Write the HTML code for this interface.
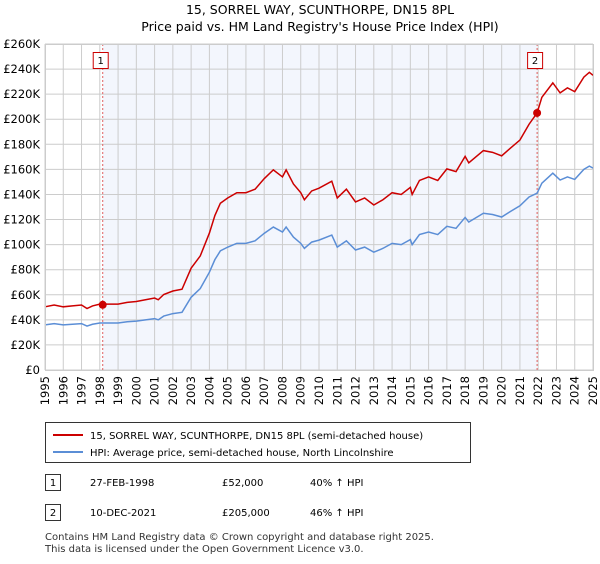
<!DOCTYPE html>
<html><head><meta charset="utf-8"><style>
body{margin:0;background:#fff;font-family:"DejaVu Sans","Liberation Sans",sans-serif;}
svg text{font-family:"DejaVu Sans","Liberation Sans",sans-serif;}
</style></head><body>
<svg id="c" width="600" height="560" xmlns="http://www.w3.org/2000/svg">
<text x="320" y="14" font-size="12.5" text-anchor="middle">15, SORREL WAY, SCUNTHORPE, DN15 8PL</text>
<text x="320" y="31" font-size="12.5" text-anchor="middle">Price paid vs. HM Land Registry's House Price Index (HPI)</text>
<g id="plot"></g>
<g>
<rect x="45.5" y="422.5" width="425" height="40" fill="#fff" stroke="#333"/>
<line x1="53" y1="435" x2="83" y2="435" stroke="#cc0000" stroke-width="2"/>
<text x="90" y="439" font-size="10">15, SORREL WAY, SCUNTHORPE, DN15 8PL (semi-detached house)</text>
<line x1="53" y1="452" x2="83" y2="452" stroke="#5b8ed6" stroke-width="2"/>
<text x="90" y="456" font-size="10">HPI: Average price, semi-detached house, North Lincolnshire</text>
</g>
<g font-size="10">
<rect x="45.5" y="474.5" width="15" height="16" fill="#fff" stroke="#333"/><text x="53" y="486" text-anchor="middle">1</text>
<text x="90" y="486">27-FEB-1998</text><text x="222" y="486">£52,000</text><text x="310" y="486">40% ↑ HPI</text>
<rect x="45.5" y="504.5" width="15" height="16" fill="#fff" stroke="#333"/><text x="53" y="516" text-anchor="middle">2</text>
<text x="90" y="516">10-DEC-2021</text><text x="222" y="516">£205,000</text><text x="310" y="516">46% ↑ HPI</text>
</g>
<text x="45" y="540" font-size="10" fill="#333">Contains HM Land Registry data © Crown copyright and database right 2025.</text>
<text x="45" y="552" font-size="10" fill="#333">This data is licensed under the Open Government Licence v3.0.</text>
</svg>
<script>
const times=[1995,1995.5,1996,1996.5,1997,1997.3,1997.6,1998,1998.5,1999,1999.5,2000,2000.5,2001,2001.2,2001.5,2002,2002.5,2003,2003.5,2004,2004.3,2004.6,2005,2005.5,2006,2006.5,2007,2007.5,2008,2008.2,2008.6,2009,2009.2,2009.6,2010,2010.7,2011,2011.5,2012,2012.5,2013,2013.5,2014,2014.5,2015,2015.1,2015.5,2016,2016.5,2017,2017.5,2018,2018.2,2019,2019.5,2020,2020.5,2021,2021.5,2021.94,2022.2,2022.8,2023.2,2023.6,2024,2024.5,2024.8,2025];
const hpiValues=[36,37,36,36.5,37,35,36.5,37.5,37.5,37.5,38.5,39,40,41,40,43,45,46,58,65,78,88,95,98,101,101,103,109,114,110,114,106,101,97,102,103.6,107.6,98,103,95.7,98,94,97,101,100,104,100,108,110,108,114.6,113,121.7,118,125,124,122,126.6,131,138,141,149,157,151.5,154,152,160,162.6,161];
const propertyValues=[50.4,51.8,50.4,51.1,51.8,49,51.1,52.5,52.5,52.5,53.9,54.6,56,57.4,56,60.2,63,64.4,81.2,91,109.2,123.2,133,137.2,141.4,141.4,144.2,152.6,159.6,154,159.6,148.4,141.4,135.8,142.8,145,150.6,137.2,144.2,134,137.2,131.6,135.8,141.4,140,145.6,140,151.2,154,151.2,160.4,158.2,170.4,165.2,175,173.6,170.8,177.2,183.4,196,205,217.5,229,221,225,222,233.6,237.4,235];
const saleTimes=[1998.16,2021.94];
const salePrices=[52,205];
const saleLabels=["1","2"];
const yTicks=[0,20,40,60,80,100,120,140,160,180,200,220,240,260];
const xYears=[1995,1996,1997,1998,1999,2000,2001,2002,2003,2004,2005,2006,2007,2008,2009,2010,2011,2012,2013,2014,2015,2016,2017,2018,2019,2020,2021,2022,2023,2024,2025];
const X0=45,X1=593,Y0=370,Y1=44;
const xs=t=>X0+(t-1995)/30*(X1-X0);
const ys=v=>Y0-v/260*(Y0-Y1);
const g=document.getElementById('plot');
const NS='http://www.w3.org/2000/svg';
function mk(tag,a){const e=document.createElementNS(NS,tag);for(const k in a)e.setAttribute(k,a[k]);g.appendChild(e);return e;}
let e=mk('rect',{x:xs(saleTimes[0]),y:Y1,width:xs(saleTimes[1])-xs(saleTimes[0]),height:Y0-Y1,fill:'#f3f6fd'});


yTicks.forEach(v=>{
 let l=mk('line',{x1:X0,x2:X1,y1:ys(v),y2:ys(v),stroke:'#ccc'});
 
 
 let t=mk('text',{x:X0-5,y:ys(v)+4,'font-size':'11.5','text-anchor':'end'});
 t.textContent=v===0?'£0':'£'+v+'K';
 
 
});
xYears.forEach(yr=>{
 let l=mk('line',{x1:xs(yr),x2:xs(yr),y1:Y1,y2:Y0,stroke:'#ccc'});
 
 
 let t=mk('text',{x:0,y:0,'font-size':'11.5','text-anchor':'end',transform:`translate(${xs(yr)+4},${Y0+6}) rotate(-90)`});
 t.textContent=yr;
 
 
});
saleTimes.forEach((t,i)=>{
 let l=mk('line',{x1:xs(t),x2:xs(t),y1:Y1,y2:Y0,stroke:'#e06060','stroke-dasharray':'2,2'});
 
 
});
let hp=mk('polyline',{points:times.map((t,i)=>xs(t)+','+ys(hpiValues[i])).join(' '),fill:'none',stroke:'#5b8ed6','stroke-width':1.5});


let pp=mk('polyline',{points:times.map((t,i)=>xs(t)+','+ys(propertyValues[i])).join(' '),fill:'none',stroke:'#cc0000','stroke-width':1.5});


saleTimes.forEach((t,i)=>{
 let c=mk('circle',{cx:xs(t),cy:ys(salePrices[i]),r:4,fill:'#cc0000'});
 
 
 let b=mk('rect',{x:xs(t)-9.5,y:52.5,width:15,height:16,fill:'#fff',stroke:'#cc0000'});
 
 
 let tx=mk('text',{x:xs(t)-2,y:64,'font-size':'10','text-anchor':'middle'});
 tx.textContent=saleLabels[i];
 
 
});
let r=mk('rect',{x:X0+0.5,y:Y1+0.5,width:X1-X0,height:Y0-Y1,fill:'none',stroke:'#ccc'});


</script>
</body></html>
